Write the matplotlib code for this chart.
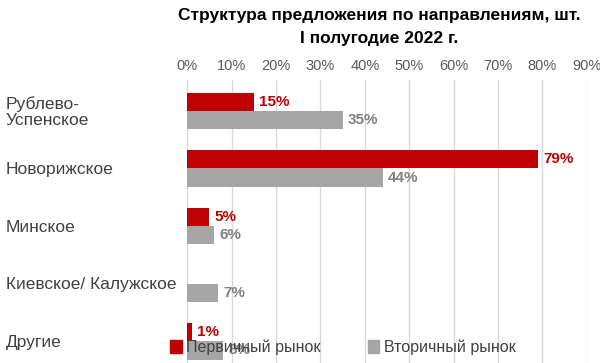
import matplotlib.pyplot as plt
import matplotlib.transforms as mtransforms
from matplotlib.patches import Patch
import numpy as np

plt.rcParams['font.family'] = ['Liberation Sans', 'DejaVu Sans']

categories = ['Рублево-\nУспенское', 'Новорижское', 'Минское', 'Киевское/ Калужское', 'Другие']
primary = [15, 79, 5, 0, 1]
secondary = [35, 44, 6, 7, 8]
series_names = ['Первичный рынок', 'Вторичный рынок']
xticks = np.arange(0, 100, 10)

red = '#C00000'
grey = '#A6A6A6'

fig = plt.figure(figsize=(6, 3.63), dpi=100)
ax = fig.add_axes([0.312, 0.0, 0.666, 0.78])

y = np.arange(len(categories))
h = 0.32
ax.barh(y - h / 2, primary, height=h, color=red, zorder=3)
ax.barh(y + h / 2, secondary, height=h, color=grey, zorder=3)

for i, (p, s) in enumerate(zip(primary, secondary)):
    if p > 0:
        ax.text(p + 1.2, i - h / 2, f'{p}%', va='center', ha='left',
                color=red, fontsize=11, fontweight='bold', zorder=4)
    ax.text(s + 1.2, i + h / 2, f'{s}%', va='center', ha='left',
            color='#808080', fontsize=11, fontweight='bold', zorder=4)

ax.set_xlim(0, 90)
ax.set_ylim(4.38, -0.54)
ax.xaxis.tick_top()
ax.set_xticks(xticks)
ax.set_xticklabels([f'{t}%' for t in xticks], fontsize=10.5, color='#595959')
ax.tick_params(axis='x', length=0, pad=5)
ax.set_yticks([])
ax.grid(axis='x', color='#D9D9D9', linewidth=1, zorder=0)
for sp in ax.spines.values():
    sp.set_visible(False)

trans = mtransforms.blended_transform_factory(fig.transFigure, ax.transData)
for i, c in enumerate(categories):
    ax.text(0.01, i + 0.02, c, transform=trans, ha='left', va='center',
            fontsize=12.5, color='#404040', linespacing=1.15)

fig.text(0.632, 0.978, 'Структура предложения по направлениям, шт.\nI полугодие 2022 г.',
         ha='center', va='top', fontsize=12.5, fontweight='bold', color='black',
         linespacing=1.65)

handles = [Patch(color=red), Patch(color=grey)]
fig.legend(handles, series_names, loc='center left', bbox_to_anchor=(0.284, 0.043),
           ncol=2, frameon=False, fontsize=11.5, handlelength=0.7, handleheight=0.8,
           handletextpad=0.3, columnspacing=2.95, labelcolor='#404040',
           borderaxespad=0, borderpad=0)

fig.savefig('out.png', dpi=100)
